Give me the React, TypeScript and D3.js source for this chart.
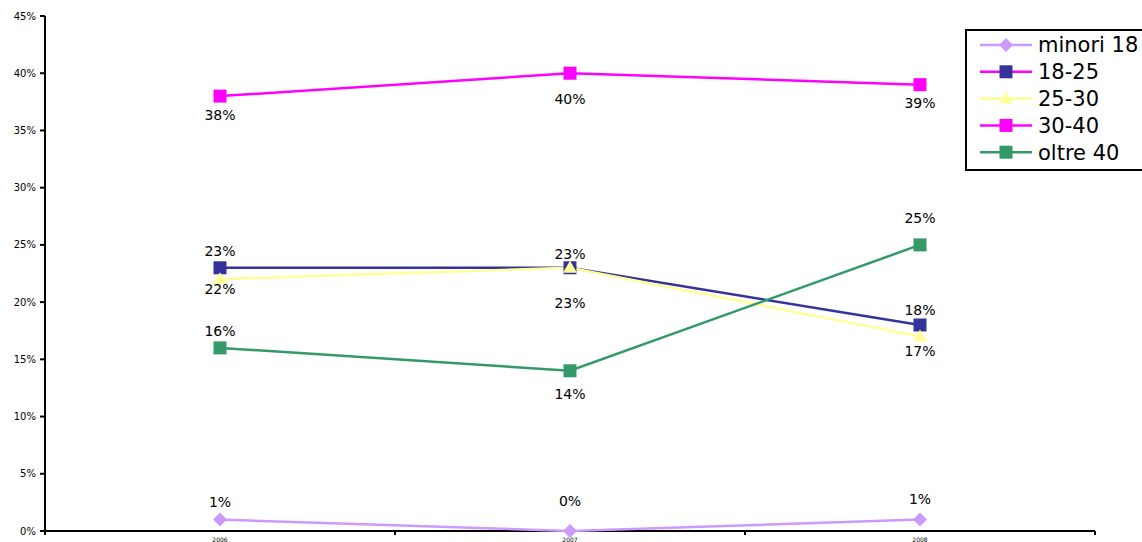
import React from "react";
import * as d3 from "d3";

const years = ["2006", "2007", "2008"];
const seriesNames = ["minori 18", "18-25", "25-30", "30-40", "oltre 40"];
const minori18 = [1, 0, 1];
const s1825 = [23, 23, 18];
const s2530 = [22, 23, 17];
const s3040 = [38, 40, 39];
const oltre40 = [16, 14, 25];
const yTicks = [0, 5, 10, 15, 20, 25, 30, 35, 40, 45];

// label offsets in pixels (layout only)
const labelOffsets = [
  [-17, -30, -20],
  [-17, -14, -15],
  [10, 35, 15],
  [19, 26, 18],
  [-17, 23, -27],
];

type Series = { name: string; values: number[]; line: string; marker: string; legendLine: string; shape: string };

const series: Series[] = [
  { name: seriesNames[0], values: minori18, line: "#CC99FF", marker: "#CC99FF", legendLine: "#CC99FF", shape: "diamond" },
  { name: seriesNames[1], values: s1825, line: "#333399", marker: "#333399", legendLine: "#FF00FF", shape: "square" },
  { name: seriesNames[2], values: s2530, line: "#FFFF99", marker: "#FFFF99", legendLine: "#FFFF99", shape: "triangle" },
  { name: seriesNames[3], values: s3040, line: "#FF00FF", marker: "#FF00FF", legendLine: "#FF00FF", shape: "square" },
  { name: seriesNames[4], values: oltre40, line: "#339966", marker: "#339966", legendLine: "#339966", shape: "square" },
];

const FONT = "DejaVu Sans, Verdana, sans-serif";

function Marker({ shape, x, y, color }: { shape: string; x: number; y: number; color: string }) {
  if (shape === "diamond") {
    const r = 7;
    return <path d={`M${x},${y - r}L${x + r},${y}L${x},${y + r}L${x - r},${y}Z`} fill={color} />;
  }
  if (shape === "triangle") {
    const r = 7;
    return <path d={`M${x},${y - r}L${x + r},${y + r * 0.7}L${x - r},${y + r * 0.7}Z`} fill={color} />;
  }
  const s = 13;
  return <rect x={x - s / 2} y={y - s / 2} width={s} height={s} fill={color} />;
}

export default function App() {
  const W = 1142, H = 542;
  const left = 45, right = 1095, top = 16, bottom = 531;
  const x = d3.scaleBand<string>().domain(years).range([left, right]);
  const y = d3.scaleLinear().domain([0, 45]).range([bottom, top]);
  const cx = (yr: string) => (x(yr) as number) + x.bandwidth() / 2;
  const line = d3.line<number>().x((_, i) => cx(years[i])).y((v) => y(v));

  const legendX = 966, legendY = 30;
  const rowH = 26.8;

  return (
    <svg width={W} height={H} style={{ position: "absolute", left: 0, top: 0, background: "#fff" }} fontFamily={FONT}>
      <rect width={W} height={H} fill="#fff" />
      {/* Y axis */}
      <line x1={left} x2={left} y1={top} y2={bottom} stroke="#000" strokeWidth={2} />
      {yTicks.map((t) => (
        <g key={t}>
          <line x1={left - 5} x2={left} y1={y(t)} y2={y(t)} stroke="#000" strokeWidth={2} />
          <text x={left - 9} y={y(t)} dy="0.35em" textAnchor="end" fontSize={10} fill="#000">{t}%</text>
        </g>
      ))}
      {/* X axis */}
      <line x1={left} x2={right} y1={bottom} y2={bottom} stroke="#000" strokeWidth={2} />
      {[...years.map((yr) => x(yr) as number), right].map((p, i) => (
        <line key={i} x1={p} x2={p} y1={bottom} y2={bottom + 4} stroke="#000" strokeWidth={2} />
      ))}
      {years.map((yr) => (
        <text key={yr} x={cx(yr)} y={bottom + 11} textAnchor="middle" fontSize={6} fill="#000">{yr}</text>
      ))}
      {/* Lines */}
      {series.map((s) => (
        <path key={s.name} d={line(s.values) || ""} fill="none" stroke={s.line} strokeWidth={2.5} />
      ))}
      {series.map((s) => (
        <g key={s.name + "m"}>
          {s.values.map((v, i) => (
            <Marker key={i} shape={s.shape} x={cx(years[i])} y={y(v)} color={s.marker} />
          ))}
        </g>
      ))}
      {series.map((s, si) => (
        <g key={s.name + "l"}>
          {s.values.map((v, i) => (
            <text key={i} x={cx(years[i])} y={y(v) + labelOffsets[si][i]} dy="0.35em" textAnchor="middle" fontSize={14} fill="#000">{v}%</text>
          ))}
        </g>
      ))}
      {/* Legend */}
      <rect x={legendX} y={legendY} width={200} height={140} fill="#fff" stroke="#000" strokeWidth={2} />
      {series.map((s, i) => {
        const ly = legendY + 15 + i * rowH;
        return (
          <g key={s.name + "lg"}>
            <line x1={980} x2={1032} y1={ly} y2={ly} stroke={s.legendLine} strokeWidth={2.5} />
            <Marker shape={s.shape} x={1006} y={ly} color={s.marker} />
            <text x={1038} y={ly} dy="0.35em" fontSize={21} fill="#000">{s.name}</text>
          </g>
        );
      })}
    </svg>
  );
}
